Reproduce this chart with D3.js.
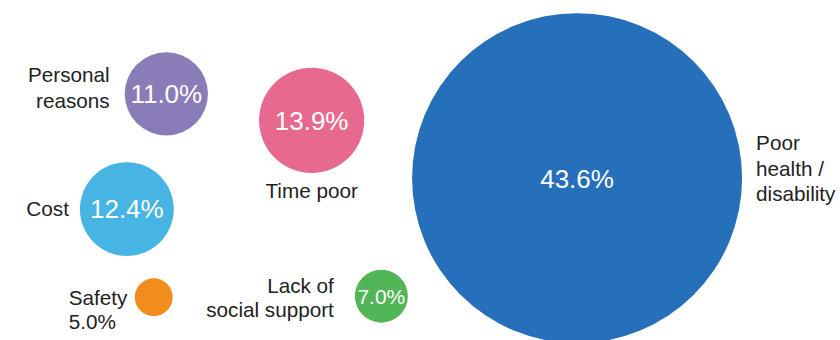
<!DOCTYPE html>
<html>
<head>
<meta charset="utf-8">
<script src="https://cdn.jsdelivr.net/npm/d3@7"></script>
<style>
  body { margin: 0; background: #fff; }
  text { font-family: "Liberation Sans", Arial, sans-serif; }
</style>
</head>
<body>
<script>
// data
var categories = ["Poor health / disability", "Time poor", "Personal reasons", "Cost", "Safety", "Lack of social support"];
var shares = [43.6, 13.9, 11.0, 12.4, 5.0, 7.0];
// bubble placement (hidden axes, 0-100 each way)
var xVals = [68.7, 37.1, 19.8, 15.1, 18.3, 45.4];
var yVals = [52.4, 35.4, 27.6, 61.5, 87.4, 87.1];
var colors = ["#266fba", "#e8698f", "#8a7cb9", "#47b5e3", "#f28c1c", "#52b556"];

var width = 840, height = 340;

var svg = d3.select("body").append("svg")
    .attr("width", width)
    .attr("height", height);

var x = d3.scaleLinear().domain([0, 100]).range([0, width]);
var y = d3.scaleLinear().domain([0, 100]).range([0, height]);
var r = d3.scaleLinear().domain([0, 43.6]).range([0, 165]);

var data = categories.map(function(c, i) {
    return {name: c, value: shares[i], x: xVals[i], y: yVals[i], color: colors[i]};
});

var g = svg.selectAll("g.bubble")
    .data(data)
    .enter()
    .append("g")
    .attr("class", "bubble");

g.append("circle")
    .attr("cx", function(d){ return x(d.x); })
    .attr("cy", function(d){ return y(d.y); })
    .attr("r", function(d){ return r(d.value); })
    .attr("fill", function(d){ return d.color; });

// values inside the bubbles (safety is too small, its value goes with the label)
g.filter(function(d){ return d.value >= 7; })
    .append("text")
    .attr("x", function(d){ return x(d.x); })
    .attr("y", function(d){ return y(d.y); })
    .attr("dy", "0.36em")
    .attr("text-anchor", "middle")
    .attr("fill", "#fff")
    .style("font-size", function(d){ return d.value < 8 ? "21px" : "26px"; })
    .text(function(d){ return d.value.toFixed(1) + "%"; });

// category labels: where they sit relative to the bubble
// side: r = right of bubble, l = left, b = below, lb = left, start-anchored
var labelSpec = {
    "Poor health / disability": {side: "r", lines: ["Poor", "health /", "disability"], gap: 14, dy: -28, lh: 25.5},
    "Time poor": {side: "b", lines: ["Time poor"], gap: 0, dy: 25, lh: 25},
    "Personal reasons": {side: "l", lines: ["Personal", "reasons"], gap: 15, dy: -12, lh: 26},
    "Cost": {side: "l", lines: ["Cost"], gap: 11, dy: 7, lh: 25},
    "Safety": {side: "lb", lines: ["Safety", "5.0%"], gap: 66, dy: 8, lh: 24},
    "Lack of social support": {side: "l", lines: ["Lack of", "social support"], gap: 21, dy: -3, lh: 24}
};

g.each(function(d) {
    var spec = labelSpec[d.name];
    var cx = x(d.x), cy = y(d.y), rr = r(d.value);
    var t = d3.select(this).append("text")
        .attr("fill", "#222")
        .style("font-size", "20.7px");
    var tx, ty = cy + spec.dy, anchor;
    if (spec.side == "r") {
        tx = cx + rr + spec.gap; anchor = "start";
    } else if (spec.side == "l") {
        tx = cx - rr - spec.gap; anchor = "end";
    } else if (spec.side == "b") {
        tx = cx; anchor = "middle";
        ty = cy + rr + spec.dy;
    } else {
        tx = cx - rr - spec.gap; anchor = "start";
    }
    t.attr("text-anchor", anchor);
    spec.lines.forEach(function(line, i) {
        t.append("tspan")
            .attr("x", tx)
            .attr("y", ty + i * spec.lh)
            .text(line);
    });
});
</script>
</body>
</html>
